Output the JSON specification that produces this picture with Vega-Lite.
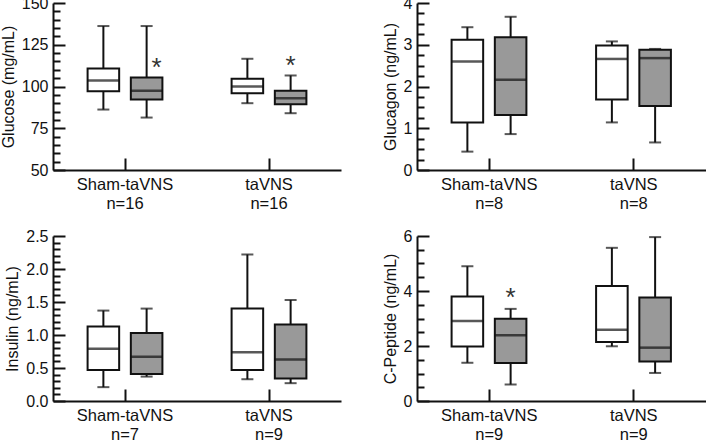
{
  "$schema": "https://vega.github.io/schema/vega-lite/v6.json",
  "padding": {"top": -5, "left": 0, "right": 0, "bottom": 0},
  "datasets": {
    "box": [
      {"panel": "Glucose", "group": "Sham-taVNS", "treat": "pre", "lo": 86.2, "q1": 97.2, "med": 103.6, "q3": 110.8, "hi": 136.2},
      {"panel": "Glucose", "group": "Sham-taVNS", "treat": "post", "lo": 81.4, "q1": 92.2, "med": 97.4, "q3": 105.4, "hi": 136.2},
      {"panel": "Glucose", "group": "taVNS", "treat": "pre", "lo": 90, "q1": 96, "med": 100, "q3": 104.6, "hi": 116.6},
      {"panel": "Glucose", "group": "taVNS", "treat": "post", "lo": 84, "q1": 89.4, "med": 93, "q3": 97.4, "hi": 106.6},
      {"panel": "Glucagon", "group": "Sham-taVNS", "treat": "pre", "lo": 0.44, "q1": 1.14, "med": 2.6, "q3": 3.12, "hi": 3.42},
      {"panel": "Glucagon", "group": "Sham-taVNS", "treat": "post", "lo": 0.86, "q1": 1.32, "med": 2.16, "q3": 3.18, "hi": 3.67},
      {"panel": "Glucagon", "group": "taVNS", "treat": "pre", "lo": 1.14, "q1": 1.69, "med": 2.66, "q3": 2.98, "hi": 3.08},
      {"panel": "Glucagon", "group": "taVNS", "treat": "post", "lo": 0.66, "q1": 1.53, "med": 2.68, "q3": 2.88, "hi": 2.9},
      {"panel": "Insulin", "group": "Sham-taVNS", "treat": "pre", "lo": 0.21, "q1": 0.47, "med": 0.79, "q3": 1.13, "hi": 1.37},
      {"panel": "Insulin", "group": "Sham-taVNS", "treat": "post", "lo": 0.37, "q1": 0.41, "med": 0.67, "q3": 1.03, "hi": 1.4},
      {"panel": "Insulin", "group": "taVNS", "treat": "pre", "lo": 0.33, "q1": 0.47, "med": 0.74, "q3": 1.4, "hi": 2.22},
      {"panel": "Insulin", "group": "taVNS", "treat": "post", "lo": 0.27, "q1": 0.34, "med": 0.63, "q3": 1.16, "hi": 1.53},
      {"panel": "C-Peptide", "group": "Sham-taVNS", "treat": "pre", "lo": 1.39, "q1": 1.98, "med": 2.91, "q3": 3.8, "hi": 4.9},
      {"panel": "C-Peptide", "group": "Sham-taVNS", "treat": "post", "lo": 0.6, "q1": 1.38, "med": 2.39, "q3": 2.99, "hi": 3.35},
      {"panel": "C-Peptide", "group": "taVNS", "treat": "pre", "lo": 1.99, "q1": 2.15, "med": 2.59, "q3": 4.18, "hi": 5.57},
      {"panel": "C-Peptide", "group": "taVNS", "treat": "post", "lo": 1.02, "q1": 1.44, "med": 1.94, "q3": 3.76, "hi": 5.96}
    ],
    "stars": [
      {"panel": "Glucose", "group": "Sham-taVNS", "treat": "post", "value": 114.6, "mark": "*"},
      {"panel": "Glucose", "group": "taVNS", "treat": "post", "value": 116, "mark": "*"},
      {"panel": "C-Peptide", "group": "Sham-taVNS", "treat": "post", "value": 3.96, "mark": "*"}
    ]
  },
  "config": {
    "view": {"stroke": null},
    "font": "Liberation Sans",
    "axis": {
      "labelFont": "Liberation Sans", "titleFont": "Liberation Sans",
      "labelColor": "#111", "titleColor": "#111",
      "domainColor": "#111", "tickColor": "#111",
      "domainWidth": 2, "tickWidth": 2, "grid": false,
      "labelFontSize": 16, "titleFontSize": 16, "titleFontWeight": "normal"
    }
  },
  "spacing": 16,
  "vconcat": [
    {
      "spacing": 41,
      "hconcat": [
        {
          "width": 288, "height": 167,
          "data": {"name": "box"},
          "transform": [{"filter": "datum.panel == 'Glucose'"}],
          "encoding": {
            "x": {"field": "group", "type": "nominal", "scale": {"domain": ["Sham-taVNS", "taVNS"], "paddingInner": 0, "paddingOuter": 0},
                  "axis": {"title": null, "labelAngle": 0, "labelExpr": "[datum.label, 'n=16']", "tickSize": -12, "labelPadding": 18, "labelLineHeight": 19.5, "labelFontSize": 16.5}},
            "xOffset": {"field": "treat", "type": "nominal", "scale": {"domain": ["pre", "post"], "paddingInner": 0.27, "paddingOuter": 0.8}}
          },
          "layer": [
            {"mark": {"type": "rule", "strokeWidth": 2, "color": "#111"},
             "encoding": {"y": {"field": "lo", "type": "quantitative", "scale": {"domain": [50, 150], "nice": false, "zero": false},
                                "axis": {"orient": "left", "title": "Glucose (mg/mL)", "values": [50, 75, 100, 125, 150], "tickSize": -12, "labelPadding": 17, "titlePadding": 5, "labelFlush": false}},
                          "y2": {"field": "hi"}}},
            {"mark": {"type": "bar", "stroke": "#111", "strokeWidth": 2},
             "encoding": {"y": {"field": "q1", "type": "quantitative",
                                "axis": {"orient": "left", "title": null, "labels": false, "domain": false, "tickSize": -7, "values": [55, 60, 65, 70, 80, 85, 90, 95, 105, 110, 115, 120, 130, 135, 140, 145]}},
                          "y2": {"field": "q3"},
                          "fill": {"field": "treat", "type": "nominal", "scale": {"domain": ["pre", "post"], "range": ["#ffffff", "#999999"]}, "legend": null}}},
            {"mark": {"type": "tick", "size": 31.5, "thickness": 2.5, "color": "#111"},
             "encoding": {"y": {"field": "med", "type": "quantitative", "axis": null}}},
            {"mark": {"type": "tick", "size": 12, "thickness": 2, "color": "#111"},
             "encoding": {"y": {"field": "lo", "type": "quantitative", "axis": null}}},
            {"mark": {"type": "tick", "size": 12, "thickness": 2, "color": "#111"},
             "encoding": {"y": {"field": "hi", "type": "quantitative", "axis": null}}},
            {"data": {"name": "stars"},
             "transform": [{"filter": "datum.panel == 'Glucose' && datum.group == 'Sham-taVNS'"}],
             "mark": {"type": "text", "fontSize": 26, "color": "#333", "baseline": "middle", "dx": 10, "dy": 6},
             "encoding": {"y": {"field": "value", "type": "quantitative", "axis": null}, "text": {"field": "mark"}}},
            {"data": {"name": "stars"},
             "transform": [{"filter": "datum.panel == 'Glucose' && datum.group == 'taVNS'"}],
             "mark": {"type": "text", "fontSize": 26, "color": "#333", "baseline": "middle", "dy": 6},
             "encoding": {"y": {"field": "value", "type": "quantitative", "axis": null}, "text": {"field": "mark"}}}
          ],
          "resolve": {"axis": {"y": "independent"}}
        },
        {
          "width": 289, "height": 167,
          "data": {"name": "box"},
          "transform": [{"filter": "datum.panel == 'Glucagon'"}],
          "encoding": {
            "x": {"field": "group", "type": "nominal", "scale": {"domain": ["Sham-taVNS", "taVNS"], "paddingInner": 0, "paddingOuter": 0},
                  "axis": {"title": null, "labelAngle": 0, "labelExpr": "[datum.label, 'n=8']", "tickSize": -12, "labelPadding": 18, "labelLineHeight": 19.5, "labelFontSize": 16.5}},
            "xOffset": {"field": "treat", "type": "nominal", "scale": {"domain": ["pre", "post"], "paddingInner": 0.27, "paddingOuter": 0.8}}
          },
          "layer": [
            {"mark": {"type": "rule", "strokeWidth": 2, "color": "#111"},
             "encoding": {"y": {"field": "lo", "type": "quantitative", "scale": {"domain": [0, 4], "nice": false},
                                "axis": {"orient": "left", "title": "Glucagon (ng/mL)", "values": [0, 1, 2, 3, 4], "tickSize": -12, "labelPadding": 17, "titlePadding": 5, "labelFlush": false}},
                          "y2": {"field": "hi"}}},
            {"mark": {"type": "bar", "stroke": "#111", "strokeWidth": 2},
             "encoding": {"y": {"field": "q1", "type": "quantitative",
                                "axis": {"orient": "left", "title": null, "labels": false, "domain": false, "tickSize": -7, "values": [0.25, 0.5, 0.75, 1.25, 1.5, 1.75, 2.25, 2.5, 2.75, 3.25, 3.5, 3.75]}},
                          "y2": {"field": "q3"},
                          "fill": {"field": "treat", "type": "nominal", "scale": {"domain": ["pre", "post"], "range": ["#ffffff", "#999999"]}, "legend": null}}},
            {"mark": {"type": "tick", "size": 31.5, "thickness": 2.5, "color": "#111"},
             "encoding": {"y": {"field": "med", "type": "quantitative", "axis": null}}},
            {"mark": {"type": "tick", "size": 12, "thickness": 2, "color": "#111"},
             "encoding": {"y": {"field": "lo", "type": "quantitative", "axis": null}}},
            {"mark": {"type": "tick", "size": 12, "thickness": 2, "color": "#111"},
             "encoding": {"y": {"field": "hi", "type": "quantitative", "axis": null}}}
          ],
          "resolve": {"axis": {"y": "independent"}}
        }
      ]
    },
    {
      "spacing": 41,
      "hconcat": [
        {
          "width": 288, "height": 165,
          "data": {"name": "box"},
          "transform": [{"filter": "datum.panel == 'Insulin'"}],
          "encoding": {
            "x": {"field": "group", "type": "nominal", "scale": {"domain": ["Sham-taVNS", "taVNS"], "paddingInner": 0, "paddingOuter": 0},
                  "axis": {"title": null, "labelAngle": 0, "labelExpr": "[datum.label, datum.label == 'taVNS' ? 'n=9' : 'n=7']", "tickSize": -12, "labelPadding": 18, "labelLineHeight": 19.5, "labelFontSize": 16.5}},
            "xOffset": {"field": "treat", "type": "nominal", "scale": {"domain": ["pre", "post"], "paddingInner": 0.27, "paddingOuter": 0.8}}
          },
          "layer": [
            {"mark": {"type": "rule", "strokeWidth": 2, "color": "#111"},
             "encoding": {"y": {"field": "lo", "type": "quantitative", "scale": {"domain": [0, 2.5], "nice": false},
                                "axis": {"orient": "left", "title": "Insulin (ng/mL)", "values": [0, 0.5, 1, 1.5, 2, 2.5], "format": ".1f", "tickSize": -12, "labelPadding": 17, "titlePadding": 5, "labelFlush": false}},
                          "y2": {"field": "hi"}}},
            {"mark": {"type": "bar", "stroke": "#111", "strokeWidth": 2},
             "encoding": {"y": {"field": "q1", "type": "quantitative",
                                "axis": {"orient": "left", "title": null, "labels": false, "domain": false, "tickSize": -7, "values": [0.1, 0.2, 0.3, 0.4, 0.6, 0.7, 0.8, 0.9, 1.1, 1.2, 1.3, 1.4, 1.6, 1.7, 1.8, 1.9, 2.1, 2.2, 2.3, 2.4]}},
                          "y2": {"field": "q3"},
                          "fill": {"field": "treat", "type": "nominal", "scale": {"domain": ["pre", "post"], "range": ["#ffffff", "#999999"]}, "legend": null}}},
            {"mark": {"type": "tick", "size": 31.5, "thickness": 2.5, "color": "#111"},
             "encoding": {"y": {"field": "med", "type": "quantitative", "axis": null}}},
            {"mark": {"type": "tick", "size": 12, "thickness": 2, "color": "#111"},
             "encoding": {"y": {"field": "lo", "type": "quantitative", "axis": null}}},
            {"mark": {"type": "tick", "size": 12, "thickness": 2, "color": "#111"},
             "encoding": {"y": {"field": "hi", "type": "quantitative", "axis": null}}}
          ],
          "resolve": {"axis": {"y": "independent"}}
        },
        {
          "width": 289, "height": 165,
          "data": {"name": "box"},
          "transform": [{"filter": "datum.panel == 'C-Peptide'"}],
          "encoding": {
            "x": {"field": "group", "type": "nominal", "scale": {"domain": ["Sham-taVNS", "taVNS"], "paddingInner": 0, "paddingOuter": 0},
                  "axis": {"title": null, "labelAngle": 0, "labelExpr": "[datum.label, 'n=9']", "tickSize": -12, "labelPadding": 18, "labelLineHeight": 19.5, "labelFontSize": 16.5}},
            "xOffset": {"field": "treat", "type": "nominal", "scale": {"domain": ["pre", "post"], "paddingInner": 0.27, "paddingOuter": 0.8}}
          },
          "layer": [
            {"mark": {"type": "rule", "strokeWidth": 2, "color": "#111"},
             "encoding": {"y": {"field": "lo", "type": "quantitative", "scale": {"domain": [0, 6], "nice": false},
                                "axis": {"orient": "left", "title": "C-Peptide (ng/mL)", "values": [0, 2, 4, 6], "tickSize": -12, "labelPadding": 17, "titlePadding": 5, "labelFlush": false}},
                          "y2": {"field": "hi"}}},
            {"mark": {"type": "bar", "stroke": "#111", "strokeWidth": 2},
             "encoding": {"y": {"field": "q1", "type": "quantitative",
                                "axis": {"orient": "left", "title": null, "labels": false, "domain": false, "tickSize": -7, "values": [0.5, 1, 1.5, 2.5, 3, 3.5, 4.5, 5, 5.5]}},
                          "y2": {"field": "q3"},
                          "fill": {"field": "treat", "type": "nominal", "scale": {"domain": ["pre", "post"], "range": ["#ffffff", "#999999"]}, "legend": null}}},
            {"mark": {"type": "tick", "size": 31.5, "thickness": 2.5, "color": "#111"},
             "encoding": {"y": {"field": "med", "type": "quantitative", "axis": null}}},
            {"mark": {"type": "tick", "size": 12, "thickness": 2, "color": "#111"},
             "encoding": {"y": {"field": "lo", "type": "quantitative", "axis": null}}},
            {"mark": {"type": "tick", "size": 12, "thickness": 2, "color": "#111"},
             "encoding": {"y": {"field": "hi", "type": "quantitative", "axis": null}}},
            {"data": {"name": "stars"},
             "transform": [{"filter": "datum.panel == 'C-Peptide'"}],
             "mark": {"type": "text", "fontSize": 26, "color": "#333", "baseline": "middle", "dy": 6},
             "encoding": {"y": {"field": "value", "type": "quantitative", "axis": null}, "text": {"field": "mark"}}}
          ],
          "resolve": {"axis": {"y": "independent"}}
        }
      ]
    }
  ]
}
